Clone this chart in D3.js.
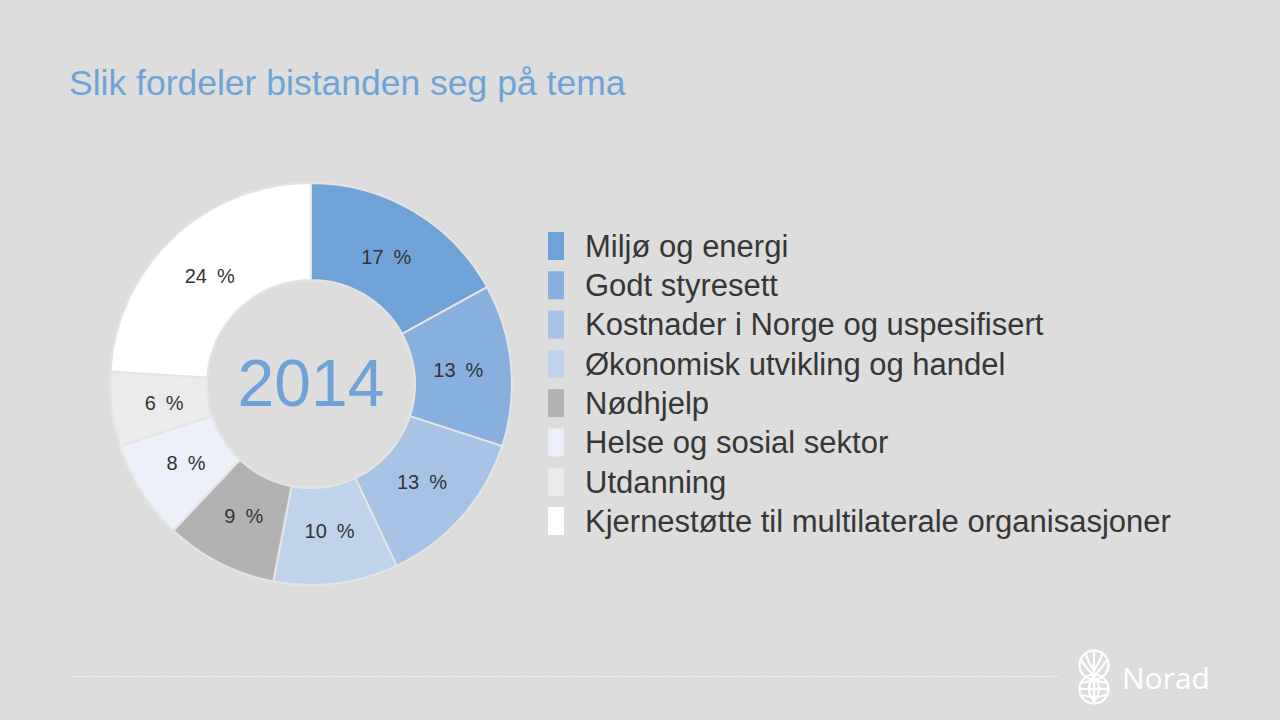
<!DOCTYPE html>
<html><head><meta charset="utf-8">
<script src="https://cdn.jsdelivr.net/npm/d3@7"></script>
<style>
html,body{margin:0;padding:0;background:#dddddd;}
svg{display:block;}
</style></head>
<body>
<svg id="chart" width="1280" height="720"></svg>
<script>
const categories = ["Miljø og energi","Godt styresett","Kostnader i Norge og uspesifisert","Økonomisk utvikling og handel","Nødhjelp","Helse og sosial sektor","Utdanning","Kjernestøtte til multilaterale organisasjoner"];
const values = [17,13,13,10,9,8,6,24];
const colors = ["#6fa3d7","#88b0df","#a6c3e6","#c0d3ec","#b2b2b2","#eaeff8","#ebebeb","#ffffff"];
const title = "Slik fordeler bistanden seg på tema";
const centerLabel = "2014";

const svg = d3.select("#chart");
svg.append("rect").attr("width",1280).attr("height",720).attr("fill","#dddddd");

svg.append("text").attr("x",69).attr("y",95).attr("fill","#6fa3d7")
  .attr("font-family","Liberation Sans, Arial, sans-serif").attr("font-size",35.5)
  .text(title);

const cx=311, cy=384, R=201, r=104;
const g = svg.append("g").attr("transform",`translate(${cx},${cy})`);
const pie = d3.pie().sort(null).value(d=>d.v);
const arcs = pie(values.map((v,i)=>({v,i})));
const arc = d3.arc().innerRadius(r).outerRadius(R);
g.selectAll("path").data(arcs).join("path")
  .attr("d",arc).attr("fill",d=>colors[d.data.i])
  .attr("stroke","#e4e4e4").attr("stroke-width",2);
const labelArc = d3.arc().innerRadius(148).outerRadius(148);
g.selectAll("text.lbl").data(arcs).join("text").attr("class","lbl")
  .attr("transform",d=>`translate(${labelArc.centroid(d)})`)
  .attr("text-anchor","middle").attr("dy","0.35em")
  .attr("font-family","Liberation Sans, Arial, sans-serif").attr("font-size",20)
  .attr("fill","#333333")
  .text(d=>d.data.v+"\u2002%");
g.append("text").attr("text-anchor","middle").attr("y",22)
  .attr("font-family","Liberation Sans, Arial, sans-serif").attr("font-size",66)
  .attr("fill","#6fa3d7").text(centerLabel);

const y = d3.scalePoint().domain(categories).range([246,521]);
const leg = svg.append("g");
const items = leg.selectAll("g").data(categories).join("g")
  .attr("transform",d=>`translate(548,${y(d)})`);
items.append("rect").attr("x",0).attr("y",-14).attr("width",16).attr("height",28)
  .attr("fill",(d,i)=>colors[i]);
items.append("text").attr("x",37).attr("dy","0.35em")
  .attr("font-family","Liberation Sans, Arial, sans-serif").attr("font-size",31)
  .attr("fill","#363636").text(d=>d);

svg.append("line").attr("x1",69).attr("x2",1058).attr("y1",676.5).attr("y2",676.5)
  .attr("stroke","#f6f6f6").attr("stroke-width",1).attr("stroke-dasharray","1.5,1.5");

// Norad logo
const lg = svg.append("g").attr("fill","none").attr("stroke","#ffffff").attr("stroke-width",2.2);
lg.append("circle").attr("cx",1094).attr("cy",665).attr("r",14.5);
lg.append("circle").attr("cx",1094).attr("cy",689).attr("r",14.5);
lg.append("line").attr("x1",1094).attr("x2",1094).attr("y1",652).attr("y2",702);
lg.append("line").attr("x1",1080).attr("x2",1108).attr("y1",689).attr("y2",689);
lg.append("path").attr("d","M1082,683 Q1094,679 1106,683 M1082,695 Q1094,699 1106,695");
lg.append("path").attr("d","M1094,702 Q1084,689 1094,676 M1094,702 Q1104,689 1094,676");
lg.append("path").attr("d","M1094,676 Q1086,668 1081,660 M1094,676 Q1102,668 1107,660 M1094,670 Q1088,662 1086,654 M1094,670 Q1100,662 1102,654");
svg.append("text").attr("x",1122).attr("y",689).attr("fill","#ffffff")
  .attr("font-family","Open Sans, Liberation Sans, sans-serif").attr("font-size",30)
  .attr("font-weight",500).text("Norad");
</script>
</body></html>
